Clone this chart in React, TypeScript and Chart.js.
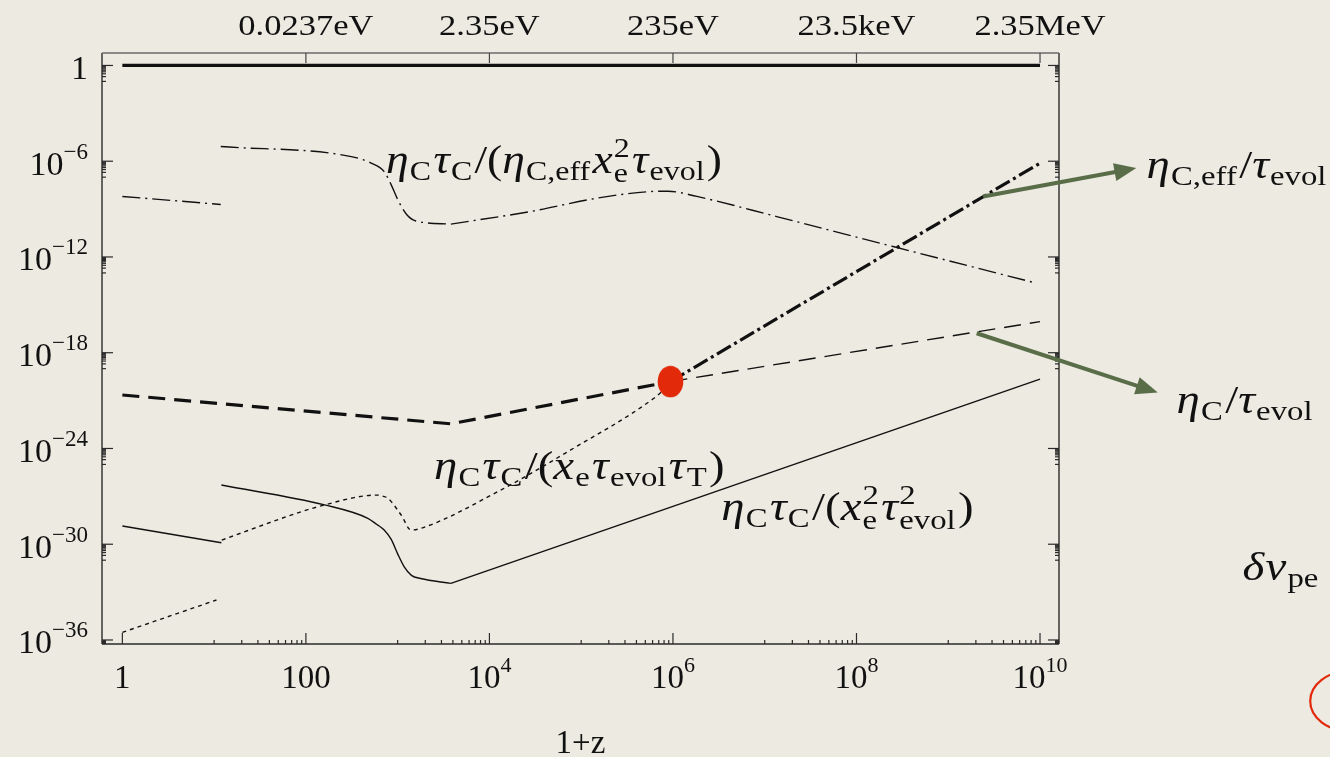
import React, { useEffect, useRef } from 'react';
import { Chart, registerables } from 'chart.js';

Chart.register(...registerables);

// ---------- axes ----------
const X_MIN = 0.627;
const X_MAX = 1.61e10;
const Y_MIN = 5.6e-37;
const Y_MAX = 6.03;

const xTickValues = [1, 1e2, 1e4, 1e6, 1e8, 1e10];
const xTickLabels = ['1', '100', '10^4', '10^6', '10^8', '10^10'];
const yTickValues = [1, 1e-6, 1e-12, 1e-18, 1e-24, 1e-30, 1e-36];
const yTickLabels = ['1', '10^-6', '10^-12', '10^-18', '10^-24', '10^-30', '10^-36'];
const topTickValues = [1e2, 1e4, 1e6, 1e8, 1e10];
const topTickLabels = ['0.0237eV', '2.35eV', '235eV', '23.5keV', '2.35MeV'];
const xTitle = '1+z';

// ---------- series ----------
const unityX = [1, 1e10];
const unityY = [1, 1];

// eta_C tau_C / (eta_C,eff x_e^2 tau_evol)  (thin dash-dot)
const effRatioAX = [1, 11.8];
const effRatioAY = [6.2e-9, 1.95e-9];
const effRatioBX = [11.8, 312, 514, 713, 851, 1005, 1259, 1585, 3800];
const effRatioBY = [8.3e-6, 1.95e-6, 7.6e-7, 2.24e-7, 3.3e-8, 3.8e-9, 4.4e-10, 1.8e-10, 1.15e-10];
const effRatioCX = [3800, 28200, 1.51e5, 5.75e5, 8.9e5, 1.82e6, 1.35e7, 2.5e8, 8.7e9];
const effRatioCY = [1.15e-10, 7.1e-10, 4.9e-9, 1.26e-8, 1.32e-8, 6.2e-9, 3.4e-10, 4.5e-12, 2.45e-14];

// eta_C / tau_evol  (thick dashed, then thin dashed)
const etaLowX = [1, 3800, 9.4e5];
const etaLowY = [2.24e-21, 3.5e-23, 1.55e-20];
const etaHighX = [9.4e5, 1e10];
const etaHighY = [1.55e-20, 8.9e-17];

// eta_C,eff / tau_evol  (thick dash-dot)
const etaEffX = [9.4e5, 1e10];
const etaEffY = [1.55e-20, 7.6e-7];

// eta_C tau_C / (x_e tau_evol tau_T)  (dotted)
const thomsonAX = [1, 10.6];
const thomsonAY = [3.0e-36, 3.2e-34];
const thomsonBX = [12.1, 89.5, 160, 398, 603, 700, 782, 1091, 1400, 1800, 12300, 7.7e4, 6.2e5, 9.4e5];
const thomsonBY = [1.82e-30, 1.1e-28, 2.9e-28, 1.0e-27, 1.2e-27, 1.0e-27, 7.6e-28, 6.8e-29, 7.8e-30, 1.0e-29, 1.95e-27, 8.1e-25, 1.41e-21, 1.1e-20];

// eta_C tau_C / (x_e^2 tau_evol^2)  (thin solid)
const compAX = [1, 12];
const compAY = [1.38e-29, 1.23e-30];
const compBX = [12, 160, 473, 589, 713, 851, 1000, 1175, 1413, 1778, 3800];
const compBY = [5.1e-27, 2.9e-28, 4.2e-29, 1.78e-29, 7.8e-30, 2.0e-30, 2.5e-31, 4.0e-32, 1.12e-32, 7.1e-33, 3.5e-33];
const compCX = [3800, 1e10];
const compCY = [3.5e-33, 2.2e-20];

// red marker
const redDotX = [9.4e5];
const redDotY = [1.55e-20];

// ---------- annotations (anchored in data units) ----------
type Seg = { t: string; i?: boolean; sub?: string; sup?: string };
const labelEffRatio: Seg[] = [
  { t: 'η', i: true, sub: 'C' }, { t: 'τ', i: true, sub: 'C' }, { t: '/' }, { t: '(' },
  { t: 'η', i: true, sub: 'C,eff' }, { t: 'x', i: true, sub: 'e', sup: '2' }, { t: 'τ', i: true, sub: 'evol' }, { t: ')' },
];
const labelThomson: Seg[] = [
  { t: 'η', i: true, sub: 'C' }, { t: 'τ', i: true, sub: 'C' }, { t: '/' }, { t: '(' },
  { t: 'x', i: true, sub: 'e' }, { t: 'τ', i: true, sub: 'evol' }, { t: 'τ', i: true, sub: 'T' }, { t: ')' },
];
const labelComp: Seg[] = [
  { t: 'η', i: true, sub: 'C' }, { t: 'τ', i: true, sub: 'C' }, { t: '/' }, { t: '(' },
  { t: 'x', i: true, sub: 'e', sup: '2' }, { t: 'τ', i: true, sub: 'evol', sup: '2' }, { t: ')' },
];
const labelEtaEff: Seg[] = [{ t: 'η', i: true, sub: 'C,eff' }, { t: '/' }, { t: 'τ', i: true, sub: 'evol' }];
const labelEta: Seg[] = [{ t: 'η', i: true, sub: 'C' }, { t: '/' }, { t: 'τ', i: true, sub: 'evol' }];
const labelDv: Seg[] = [{ t: 'δ', i: true }, { t: 'v', i: true, sub: 'pe' }];

const textAnchors = [
  { segs: labelEffRatio, x: 748, y: 1.87e-7, sx: 1.14 },
  { segs: labelThomson, x: 2490, y: 1.23e-26, sx: 1.17 },
  { segs: labelComp, x: 3.37e6, y: 3.3e-29, sx: 1.17 },
  { segs: labelEtaEff, x: 1.45e11, y: 9.1e-8, sx: 1.17 },
  { segs: labelEta, x: 3.08e11, y: 1.62e-22, sx: 1.17 },
  { segs: labelDv, x: 1.61e12, y: 5.75e-33, sx: 1.17 },
];
const arrowAnchors = [
  { x1: 2.4e9, y1: 6.2e-9, x2: 1.12e11, y2: 3.7e-7 },
  { x1: 2.04e9, y1: 1.66e-17, x2: 1.92e11, y2: 3.16e-21 },
];
const circleAnchor = { x: 2.34e13, y: 1.48e-40 };

// ---------- styling ----------
const BG = 'rgb(236,234,225)';
const INK = '#111';
const GREEN = '#5a6d49';
const RED = '#e2290a';
const SERIF = '"Liberation Serif", "Times New Roman", serif';
const font = (size: number, italic = false) => `${italic ? 'italic ' : ''}${size}px ${SERIF}`;

const zip = (xs: number[], ys: number[]) => xs.map((x, k) => ({ x, y: ys[k] }));

function drawMath(ctx: CanvasRenderingContext2D, segs: Seg[], x: number, y: number, sx: number) {
  const M = 40, S = 28;
  ctx.save();
  ctx.translate(x, y);
  ctx.scale(sx, 1);
  ctx.textAlign = 'left';
  ctx.textBaseline = 'alphabetic';
  ctx.fillStyle = INK;
  let cx = 0;
  for (const s of segs) {
    ctx.font = font(M, !!s.i);
    ctx.fillText(s.t, cx, 0);
    cx += ctx.measureText(s.t).width + (s.i ? 1 : 0);
    let w = 0;
    ctx.font = font(S, false);
    if (s.sup) {
      ctx.fillText(s.sup, cx, -16);
      w = Math.max(w, ctx.measureText(s.sup).width);
    }
    if (s.sub) {
      ctx.fillText(s.sub, cx, s.sup ? 9 : 7);
      w = Math.max(w, ctx.measureText(s.sub).width);
    }
    cx += w + (w ? 2 : 0);
  }
  ctx.restore();
}

function drawPowerLabel(ctx: CanvasRenderingContext2D, label: string, x: number, baseline: number, align: 'right' | 'center', bs: number, ss: number) {
  const [base, exp] = label.split('^');
  ctx.textAlign = 'left';
  ctx.textBaseline = 'alphabetic';
  ctx.font = font(bs);
  const wb = ctx.measureText(base).width;
  let expText = '';
  let we = 0;
  if (exp !== undefined) {
    expText = exp.replace('-', '\u2212');
    ctx.font = font(ss);
    we = ctx.measureText(expText).width;
  }
  const total = wb + we;
  const x0 = align === 'right' ? x - total : x - total / 2;
  ctx.font = font(bs);
  ctx.fillText(base, x0, baseline);
  if (expText) {
    ctx.font = font(ss);
    ctx.fillText(expText, x0 + wb, baseline - 16);
  }
}

function drawArrow(ctx: CanvasRenderingContext2D, x1: number, y1: number, x2: number, y2: number) {
  const ang = Math.atan2(y2 - y1, x2 - x1);
  const head = 22, half = 9;
  const bx = x2 - head * Math.cos(ang);
  const by = y2 - head * Math.sin(ang);
  ctx.save();
  ctx.strokeStyle = GREEN;
  ctx.fillStyle = GREEN;
  ctx.lineWidth = 4;
  ctx.lineCap = 'butt';
  ctx.beginPath();
  ctx.moveTo(x1, y1);
  ctx.lineTo(bx + 2 * Math.cos(ang), by + 2 * Math.sin(ang));
  ctx.stroke();
  ctx.beginPath();
  ctx.moveTo(x2, y2);
  ctx.lineTo(bx - half * Math.sin(ang), by + half * Math.cos(ang));
  ctx.lineTo(bx + half * Math.sin(ang), by - half * Math.cos(ang));
  ctx.closePath();
  ctx.fill();
  ctx.restore();
}

const decorPlugin = {
  id: 'decor',
  afterDatasetsDraw(chart: any) {
    const ctx: CanvasRenderingContext2D = chart.ctx;
    const xs = chart.scales.x;
    const ys = chart.scales.y;
    const { left, right, top, bottom } = chart.chartArea;
    const line = (a: number, b: number, c: number, d: number) => {
      ctx.beginPath();
      ctx.moveTo(a, b);
      ctx.lineTo(c, d);
      ctx.stroke();
    };
    ctx.save();
    // frame
    ctx.lineWidth = 1.4;
    ctx.strokeStyle = '#2a2a2a';
    line(left, top, left, bottom);
    line(left, bottom, right, bottom);
    line(right, bottom, right, top);
    ctx.strokeStyle = '#6a6a6a';
    line(left, top, right, top);
    ctx.strokeStyle = '#2a2a2a';
    ctx.lineWidth = 1.2;
    // bottom ticks
    for (const v of xTickValues) {
      const p = xs.getPixelForValue(v);
      line(p, bottom, p, bottom - 11);
    }
    for (const m of [1, 3, 5, 7, 9]) {
      for (let k = 1; k <= 9; k++) {
        const p = xs.getPixelForValue(k * Math.pow(10, m));
        line(p, bottom, p, bottom - 4);
      }
    }
    // top ticks
    ctx.strokeStyle = '#444';
    for (const v of topTickValues) {
      const p = xs.getPixelForValue(v);
      line(p, top, p, top + 10);
    }
    ctx.strokeStyle = '#2a2a2a';
    // left / right ticks
    for (const v of yTickValues) {
      const p = ys.getPixelForValue(v);
      line(left, p, left + 11, p);
      line(right, p, right - 11, p);
      for (let k = 1; k <= 9; k++) {
        const mv = (k / 10) * v;
        if (mv < Y_MIN) continue;
        const q = ys.getPixelForValue(mv);
        line(left, q, left + 4, q);
        line(right, q, right - 4, q);
      }
    }
    ctx.restore();
  },
  afterDraw(chart: any) {
    const ctx: CanvasRenderingContext2D = chart.ctx;
    const xs = chart.scales.x;
    const ys = chart.scales.y;
    const { left, bottom, top, right } = chart.chartArea;
    ctx.save();
    ctx.fillStyle = INK;
    // left labels
    yTickValues.forEach((v, k) => {
      drawPowerLabel(ctx, yTickLabels[k], left - 14, ys.getPixelForValue(v) + 13.5, 'right', 34, 23);
    });
    // bottom labels
    xTickValues.forEach((v, k) => {
      drawPowerLabel(ctx, xTickLabels[k], xs.getPixelForValue(v), bottom + 44, 'center', 33, 22);
    });
    // top labels
    topTickValues.forEach((v, k) => {
      ctx.save();
      ctx.translate(xs.getPixelForValue(v), top - 18);
      ctx.scale(1.15, 1);
      ctx.font = font(30);
      ctx.textAlign = 'center';
      ctx.textBaseline = 'alphabetic';
      ctx.fillText(topTickLabels[k], 0, 0);
      ctx.restore();
    });
    // axis title
    ctx.font = font(33);
    ctx.textAlign = 'center';
    ctx.textBaseline = 'alphabetic';
    ctx.fillText(xTitle, (left + right) / 2, bottom + 109);
    // math labels
    for (const a of textAnchors) {
      drawMath(ctx, a.segs, xs.getPixelForValue(a.x), ys.getPixelForValue(a.y), a.sx);
    }
    // arrows
    for (const a of arrowAnchors) {
      drawArrow(ctx, xs.getPixelForValue(a.x1), ys.getPixelForValue(a.y1), xs.getPixelForValue(a.x2), ys.getPixelForValue(a.y2));
    }
    // partial red ellipse at right edge
    ctx.strokeStyle = RED;
    ctx.lineWidth = 2.2;
    ctx.beginPath();
    ctx.ellipse(xs.getPixelForValue(circleAnchor.x), ys.getPixelForValue(circleAnchor.y), 39, 30, 0, 0, Math.PI * 2);
    ctx.stroke();
    ctx.restore();
  },
};

function makeDot(): HTMLCanvasElement {
  const c = document.createElement('canvas');
  c.width = 27;
  c.height = 33;
  const g = c.getContext('2d')!;
  g.fillStyle = RED;
  g.beginPath();
  g.ellipse(13.5, 16.5, 12.8, 15.8, 0, 0, Math.PI * 2);
  g.fill();
  return c;
}

export default function App() {
  const ref = useRef<HTMLCanvasElement | null>(null);
  useEffect(() => {
    document.body.style.margin = '0';
    document.body.style.background = BG;
    if (!ref.current) return;
    const thin = 1.4;
    const thick = 3.2;
    const base = { showLine: true, pointRadius: 0, borderColor: INK, backgroundColor: INK, fill: false, borderCapStyle: 'butt' as const };
    const chart = new Chart(ref.current, {
      type: 'scatter',
      data: {
        datasets: [
          { ...base, data: zip(redDotX, redDotY), showLine: false, pointRadius: 13, pointStyle: makeDot() as any },
          { ...base, data: zip(unityX, unityY), borderWidth: thick },
          { ...base, data: zip(effRatioAX, effRatioAY), borderWidth: thin, borderDash: [18, 5, 2, 5] },
          { ...base, data: zip(effRatioBX, effRatioBY), borderWidth: thin, borderDash: [18, 5, 2, 5], cubicInterpolationMode: 'monotone' },
          { ...base, data: zip(effRatioCX, effRatioCY), borderWidth: thin, borderDash: [18, 5, 2, 5], cubicInterpolationMode: 'monotone' },
          { ...base, data: zip(etaLowX, etaLowY), borderWidth: thick, borderDash: [17, 9] },
          { ...base, data: zip(etaHighX, etaHighY), borderWidth: thin, borderDash: [17, 9] },
          { ...base, data: zip(etaEffX, etaEffY), borderWidth: thick, borderDash: [16, 4, 3, 4] },
          { ...base, data: zip(thomsonAX, thomsonAY), borderWidth: thin, borderDash: [4, 4] },
          { ...base, data: zip(thomsonBX, thomsonBY), borderWidth: thin, borderDash: [4, 4], cubicInterpolationMode: 'monotone' },
          { ...base, data: zip(compAX, compAY), borderWidth: thin },
          { ...base, data: zip(compBX, compBY), borderWidth: thin, cubicInterpolationMode: 'monotone' },
          { ...base, data: zip(compCX, compCY), borderWidth: thin },
        ] as any,
      },
      options: {
        responsive: false,
        animation: false,
        events: [],
        layout: { padding: { left: 102, top: 53, right: 271, bottom: 113 } },
        plugins: { legend: { display: false }, tooltip: { enabled: false } },
        scales: {
          x: { type: 'logarithmic', min: X_MIN, max: X_MAX, display: false },
          y: { type: 'logarithmic', min: Y_MIN, max: Y_MAX, display: false },
        },
      },
      plugins: [decorPlugin],
    });
    return () => chart.destroy();
  }, []);
  return (
    <div style={{ width: 1330, height: 757, background: BG }}>
      <canvas ref={ref} width={1330} height={757} style={{ display: 'block' }} />
    </div>
  );
}
